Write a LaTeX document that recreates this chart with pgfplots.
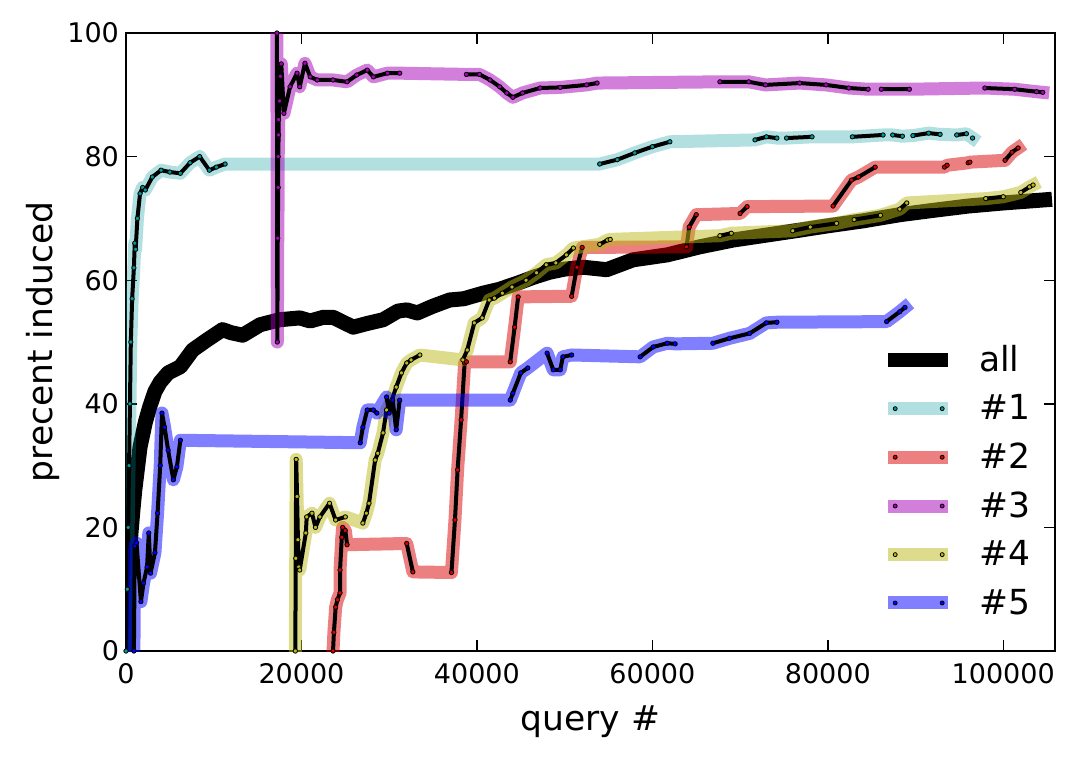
\documentclass[border=0pt]{standalone}
\usepackage{fontspec}
\setmainfont{DejaVu Sans}
\usepackage{pgfplots}
\pgfplotsset{compat=1.18}
\usepackage{pgfplotstable}

\definecolor{cA}{rgb}{0,0.6,0.6}
\definecolor{cB}{rgb}{0.85,0,0}
\definecolor{cC}{rgb}{0.65,0,0.72}
\definecolor{cD}{rgb}{0.73,0.73,0.1}
\definecolor{cE}{rgb}{0,0,1}

\pgfplotstableread{
x y
0 0
200 10
500 18
800 23
1000 26
1600 33
2200 37
2700 39.5
3300 42
3900 43.5
4800 45
6200 46
7600 48.7
9200 50.3
11000 52
12000 51.5
13300 51.1
15300 52.8
17500 53.6
19800 53.9
21000 53.4
22500 54
23600 54
25900 52.4
27500 53
29300 53.6
31000 55
32000 55.2
33200 54.7
35000 55.8
36900 56.8
38500 57
40700 57.9
42500 58.5
44600 59.5
46500 60.5
48300 61.3
50000 61.8
52100 62.1
54800 61.7
57800 63.3
61700 64.1
65400 65.4
69200 66.5
73000 67.3
76800 68.1
80000 68.8
84000 69.6
88200 70.6
92000 71.3
96000 72
100000 72.5
104700 73
}\tAll

\pgfplotstableread{
x y
0 0
150 10
250 20
350 30
450 40
550 50
700 57
900 62
1000 66
1100 65
1300 70
1600 74
1900 75
2200 74.6
3000 76.7
4000 77.8
5000 77.5
6200 77.3
7300 79
8400 80
9500 77.8
10300 78.3
11300 78.8
nan nan
54000 78.8
56000 79.5
58000 80.6
60000 81.6
62000 82.4
nan nan
71700 82.7
73000 83.2
74200 83
nan nan
75300 83
78200 83.2
nan nan
82800 83.2
86300 83.5
nan nan
87400 83.5
88500 83.3
nan nan
89700 83.4
91500 83.8
92800 83.6
nan nan
94700 83.5
95800 83.7
nan nan
96500 83
}\tA

\pgfplotstableread{
x y
23600 0
23700 3
23900 7.1
24100 8.3
24400 9.4
24400 13.1
24600 18.4
24700 20
25000 19.5
25200 17.2
nan nan
32000 17.4
32700 12.8
nan nan
37100 12.7
37500 21.2
37800 29.3
38200 37.4
38600 46.6
38800 46.8
nan nan
43800 46.8
44300 52.4
44700 57.3
nan nan
50800 57.4
51400 62.1
52000 65.3
nan nan
63900 65.4
64200 68.6
65000 70.6
nan nan
70000 70.8
70800 71.9
nan nan
80600 72
82700 76.2
83500 76.7
85400 78.3
nan nan
93300 78.3
93600 78.6
nan nan
96000 79
96200 79.1
nan nan
100200 79.4
101000 80.7
101700 81.4
}\tB

\pgfplotstableread{
x y
17200 100
17250 50
17300 66.8
17350 75
17350 80
17400 83.5
17400 86
17500 89
17600 93
17700 95
18000 87
18700 91.3
19500 93.5
19800 91.3
20400 95.1
21000 92.9
21800 92.4
23600 92.4
25200 92.1
26300 93.2
27500 94
28200 92.9
29800 93.5
31200 93.5
nan nan
38800 93.3
40300 93.3
41500 92.4
42600 91.3
43400 90.3
44100 89.6
45200 90.3
47200 91.1
49500 91.2
52500 91.6
53700 91.9
nan nan
67700 92.1
71000 92.1
72900 91.6
76800 91.9
79800 91.6
82400 91.1
84600 90.9
nan nan
86100 90.9
89300 90.9
nan nan
97900 91.1
101300 90.9
103800 90.5
104500 90.4
}\tC

\pgfplotstableread{
x y
19300 0
19350 15
19400 31
19500 25
19600 18
19700 13.6
19800 13.1
20500 19.1
20600 21.7
21200 22.3
21600 20
22100 21.7
23200 23.9
23900 21.2
25000 21.7
nan nan
27000 20.7
27400 22.3
27700 23.9
28400 30.9
28700 32
29300 35.3
29700 39
30300 40.6
30800 42.7
31400 45
32000 46.6
32500 47.1
33500 47.9
nan nan
38400 47.1
38900 48.7
39700 53.1
40600 53.9
41400 56.8
42000 57.1
42900 57.9
44000 58.9
45600 60
46800 61.2
47900 62.5
49000 62.8
50200 64.1
51000 65.2
nan nan
54000 65.8
54900 66.5
55200 66.6
nan nan
67700 67.2
69000 67.6
nan nan
76000 68.0
78000 68.6
81000 69.2
nan nan
83000 69.8
86000 70.5
nan nan
88200 71.5
89000 72.5
nan nan
98000 73.2
100000 73.5
nan nan
102000 74.2
103000 75.1
103400 75.4
}\tD

\pgfplotstableread{
x y
900 0
1000 17
1200 17.5
1700 8
2000 11
2400 13.6
2600 19.1
2800 12.6
3300 15.9
3600 22.3
3900 30
4100 38.5
4400 36.2
4800 32.5
5400 27.7
5800 29.8
6200 34.1
nan nan
26700 33.7
27000 36.2
27500 39
28200 39
28600 38.5
nan nan
29700 41.1
30000 38.5
30400 40.6
30800 35.8
31200 40.6
nan nan
43800 40.6
44100 41.7
45000 45
45800 45.8
nan nan
48000 48.2
48700 45.5
49500 45.5
49800 47.6
50800 47.9
nan nan
58600 47.6
60100 49.2
61700 49.8
62600 49.7
nan nan
66900 49.8
68800 50.6
71100 51.4
73000 53.1
74200 53.2
nan nan
86700 53.3
88200 54.9
88800 55.6
}\tE

\pgfplotsset{
  thick line/.style={line width=6.5pt, unbounded coords=discard, line join=round, line cap=rect, forget plot},
  trace/.style={black, line width=2pt, unbounded coords=jump, line join=round, line cap=round, mark=*, mark size=1.1pt, mark options={fill=#1, draw=black, line width=0.4pt}, forget plot},
}

\begin{document}
\begin{tikzpicture}
\begin{axis}[
  at={(0pt,0pt)}, anchor=south west,
  scale only axis, width=464.5pt, height=309pt,
  xmin=0, xmax=105900, ymin=0, ymax=100,
  xtick={0,20000,40000,60000,80000,100000},
  xticklabels={0,20000,40000,60000,80000,100000},
  scaled x ticks=false,
  ytick={0,20,40,60,80,100},
  /pgf/number format/assume math mode=true,
  tick label style={font=\fontsize{13.5}{16}\selectfont},
  xticklabel style={yshift=-2.5pt},
  tick align=inside,
  major tick length=5.5pt,
  every tick/.style={black, line width=0.7pt},
  axis line style={line width=1.1pt},
  xlabel={query \#}, ylabel={precent induced},
  label style={font=\fontsize{17.25}{20}\selectfont},
  xlabel style={at={(axis description cs:0.5,-0.1294)}, anchor=base},
  ylabel style={at={(axis description cs:-0.0786,0.5)}, anchor=base},
  legend style={draw=none, fill=none, at={(0.806,0.502)}, anchor=north west,
    font=\fontsize{17.25}{20}\selectfont, row sep=10.1pt, column sep=12pt,
    nodes={inner sep=0pt}},
  legend cell align=left,
]
\addplot[black, line width=7.5pt, line join=round, line cap=rect, forget plot] table {\tAll};

\addplot[cA, opacity=0.3, thick line] table {\tA};
\addplot[trace=cA] table {\tA};

\addplot[cB, opacity=0.5, thick line] table {\tB};
\addplot[trace=cB] table {\tB};

\addplot[cC, opacity=0.5, thick line] table {\tC};
\addplot[trace=cC] table {\tC};

\addplot[cD, opacity=0.5, thick line] table {\tD};
\addplot[trace=cD] table {\tD};

\addplot[cE, opacity=0.5, thick line] table {\tE};
\addplot[trace=cE] table {\tE};

\addlegendimage{legend image code/.code={\draw[black, line width=7pt] (0pt,0pt) -- (30pt,0pt);}}
\addlegendentry{all}
\addlegendimage{legend image code/.code={\draw[cA, opacity=0.3, line width=6.5pt] (0pt,0pt) -- (30pt,0pt); \filldraw[fill=cA, draw=black, line width=0.4pt] (3.5pt,0pt) circle (1pt) (27pt,0pt) circle (1pt);}}
\addlegendentry{\#1}
\addlegendimage{legend image code/.code={\draw[cB, opacity=0.5, line width=6.5pt] (0pt,0pt) -- (30pt,0pt); \filldraw[fill=cB, draw=black, line width=0.4pt] (3.5pt,0pt) circle (1pt) (27pt,0pt) circle (1pt);}}
\addlegendentry{\#2}
\addlegendimage{legend image code/.code={\draw[cC, opacity=0.5, line width=6.5pt] (0pt,0pt) -- (30pt,0pt); \filldraw[fill=cC, draw=black, line width=0.4pt] (3.5pt,0pt) circle (1pt) (27pt,0pt) circle (1pt);}}
\addlegendentry{\#3}
\addlegendimage{legend image code/.code={\draw[cD, opacity=0.5, line width=6.5pt] (0pt,0pt) -- (30pt,0pt); \filldraw[fill=cD, draw=black, line width=0.4pt] (3.5pt,0pt) circle (1pt) (27pt,0pt) circle (1pt);}}
\addlegendentry{\#4}
\addlegendimage{legend image code/.code={\draw[cE, opacity=0.5, line width=6.5pt] (0pt,0pt) -- (30pt,0pt); \filldraw[fill=cE, draw=black, line width=0.4pt] (3.5pt,0pt) circle (1pt) (27pt,0pt) circle (1pt);}}
\addlegendentry{\#5}
\end{axis}
\path (-63pt,-53pt) rectangle (474.5pt,325.5pt);
\end{tikzpicture}
\end{document}
